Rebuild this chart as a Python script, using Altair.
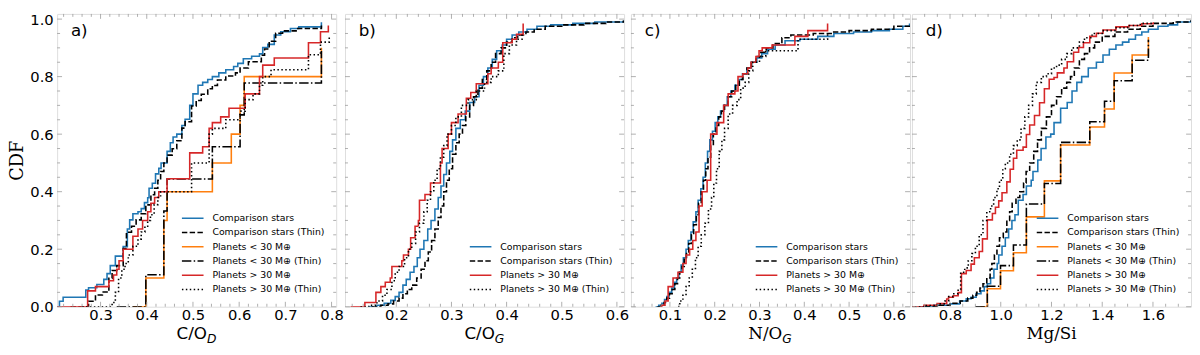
import sys
import altair as alt
import pandas as pd
import numpy as np

# ---------------- series definitions ----------------
series_names = ["Comparison stars", "Comparison stars (Thin)",
                "Planets < 30 M⊕", "Planets < 30 M⊕ (Thin)",
                "Planets > 30 M⊕", "Planets > 30 M⊕ (Thin)"]
series_colors = ["#1f77b4", "#000000", "#ff7f0e", "#000000", "#d62728", "#000000"]
series_dashes = [[1, 0], [5.5, 2.4], [1, 0], [9.6, 2.4, 1.5, 2.4], [1, 0], [1.5, 2.5]]

# ---------------- panel a : C/O_D ----------------
a_comp_x = [0.206, 0.211, 0.219, 0.268, 0.274, 0.292, 0.307, 0.314, 0.321, 0.332, 0.349, 0.358, 0.363, 0.370, 0.381, 0.388, 0.395, 0.402, 0.405, 0.412, 0.419, 0.426, 0.431, 0.444, 0.451, 0.457, 0.465, 0.476, 0.483, 0.493, 0.500, 0.511, 0.521, 0.532, 0.542, 0.556, 0.571, 0.588, 0.597, 0.609, 0.627, 0.644, 0.651, 0.662, 0.676, 0.690, 0.711, 0.729, 0.778]
a_comp_y = [0.0, 0.019, 0.033, 0.058, 0.066, 0.077, 0.095, 0.115, 0.143, 0.176, 0.209, 0.270, 0.302, 0.323, 0.330, 0.341, 0.362, 0.379, 0.412, 0.429, 0.462, 0.481, 0.500, 0.540, 0.570, 0.590, 0.600, 0.630, 0.652, 0.700, 0.740, 0.770, 0.780, 0.790, 0.800, 0.813, 0.824, 0.835, 0.846, 0.862, 0.871, 0.879, 0.901, 0.912, 0.945, 0.956, 0.967, 0.973, 0.989]
a_thin_x = [0.235, 0.274, 0.289, 0.304, 0.318, 0.325, 0.335, 0.349, 0.356, 0.367, 0.377, 0.388, 0.398, 0.409, 0.417, 0.424, 0.430, 0.437, 0.444, 0.455, 0.465, 0.476, 0.483, 0.497, 0.507, 0.518, 0.532, 0.542, 0.553, 0.571, 0.592, 0.602, 0.620, 0.648, 0.655, 0.665, 0.679, 0.694, 0.725, 0.778]
a_thin_y = [0.0, 0.019, 0.041, 0.051, 0.099, 0.126, 0.143, 0.202, 0.259, 0.280, 0.302, 0.323, 0.354, 0.389, 0.412, 0.440, 0.470, 0.500, 0.527, 0.549, 0.577, 0.621, 0.643, 0.698, 0.717, 0.739, 0.758, 0.769, 0.788, 0.802, 0.813, 0.830, 0.852, 0.874, 0.896, 0.923, 0.951, 0.959, 0.967, 0.978]
a_lo_x = [0.370, 0.398, 0.437, 0.444, 0.542, 0.583, 0.602, 0.611, 0.778]
a_lo_y = [0.0, 0.1, 0.3, 0.4, 0.5, 0.6, 0.7, 0.8, 0.9]
a_lothin_x = [0.335, 0.398, 0.437, 0.444, 0.542, 0.602, 0.611, 0.778]
a_lothin_y = [0.0, 0.111, 0.333, 0.444, 0.556, 0.667, 0.778, 0.889]
a_hi_x = [0.206, 0.272, 0.289, 0.318, 0.328, 0.335, 0.340, 0.349, 0.370, 0.381, 0.391, 0.402, 0.409, 0.417, 0.426, 0.444, 0.493, 0.521, 0.535, 0.542, 0.560, 0.578, 0.613, 0.644, 0.651, 0.676, 0.750, 0.776, 0.793]
a_hi_y = [0.0, 0.055, 0.070, 0.090, 0.110, 0.130, 0.160, 0.200, 0.245, 0.270, 0.300, 0.330, 0.360, 0.380, 0.400, 0.445, 0.535, 0.556, 0.620, 0.640, 0.660, 0.690, 0.740, 0.800, 0.840, 0.865, 0.918, 0.956, 0.978]
a_hithin_x = [0.260, 0.325, 0.332, 0.339, 0.346, 0.353, 0.360, 0.370, 0.381, 0.388, 0.396, 0.402, 0.408, 0.416, 0.424, 0.430, 0.497, 0.535, 0.542, 0.571, 0.602, 0.613, 0.630, 0.644, 0.651, 0.669, 0.750, 0.776, 0.795]
a_hithin_y = [0.0, 0.015, 0.05, 0.10, 0.13, 0.15, 0.18, 0.21, 0.235, 0.26, 0.28, 0.30, 0.32, 0.355, 0.38, 0.40, 0.50, 0.60, 0.62, 0.65, 0.68, 0.72, 0.74, 0.77, 0.80, 0.824, 0.876, 0.92, 0.94]

# ---------------- panel b : C/O_G ----------------
b_comp_x = [0.150, 0.165, 0.178, 0.190, 0.198, 0.205, 0.212, 0.218, 0.225, 0.232, 0.238, 0.243, 0.250, 0.257, 0.263, 0.270, 0.276, 0.281, 0.286, 0.291, 0.297, 0.302, 0.308, 0.316, 0.325, 0.333, 0.342, 0.350, 0.358, 0.366, 0.374, 0.382, 0.392, 0.400, 0.410, 0.422, 0.437, 0.455, 0.480, 0.520, 0.560, 0.612]
b_comp_y = [0.0, 0.005, 0.012, 0.022, 0.035, 0.05, 0.075, 0.095, 0.12, 0.14, 0.17, 0.20, 0.23, 0.27, 0.30, 0.34, 0.38, 0.42, 0.46, 0.50, 0.54, 0.58, 0.62, 0.65, 0.68, 0.71, 0.73, 0.77, 0.80, 0.83, 0.86, 0.89, 0.91, 0.93, 0.945, 0.955, 0.965, 0.975, 0.98, 0.985, 0.99, 0.995]
b_thin_x = [0.155, 0.172, 0.185, 0.195, 0.205, 0.212, 0.220, 0.228, 0.237, 0.245, 0.252, 0.258, 0.264, 0.270, 0.276, 0.281, 0.286, 0.291, 0.296, 0.302, 0.308, 0.314, 0.320, 0.326, 0.333, 0.340, 0.348, 0.356, 0.364, 0.372, 0.380, 0.390, 0.400, 0.410, 0.420, 0.435, 0.450, 0.470, 0.500, 0.540, 0.580, 0.612]
b_thin_y = [0.0, 0.005, 0.01, 0.02, 0.03, 0.045, 0.06, 0.075, 0.10, 0.13, 0.16, 0.19, 0.23, 0.27, 0.31, 0.35, 0.40, 0.44, 0.48, 0.53, 0.57, 0.60, 0.63, 0.66, 0.70, 0.73, 0.76, 0.79, 0.82, 0.85, 0.88, 0.90, 0.92, 0.935, 0.945, 0.955, 0.965, 0.975, 0.98, 0.985, 0.99, 0.995]
b_hi_x = [0.117, 0.143, 0.163, 0.172, 0.180, 0.189, 0.192, 0.210, 0.213, 0.222, 0.226, 0.234, 0.240, 0.242, 0.252, 0.262, 0.280, 0.283, 0.294, 0.300, 0.312, 0.327, 0.335, 0.345, 0.366, 0.372, 0.385, 0.393, 0.410, 0.418, 0.430]
b_hi_y = [0.0, 0.015, 0.05, 0.07, 0.085, 0.10, 0.14, 0.16, 0.18, 0.20, 0.24, 0.28, 0.30, 0.37, 0.39, 0.43, 0.50, 0.55, 0.60, 0.64, 0.67, 0.725, 0.745, 0.775, 0.81, 0.83, 0.85, 0.918, 0.93, 0.947, 0.985]
b_hithin_x = [0.135, 0.150, 0.165, 0.175, 0.183, 0.192, 0.198, 0.205, 0.215, 0.222, 0.228, 0.235, 0.242, 0.250, 0.256, 0.262, 0.268, 0.274, 0.280, 0.286, 0.292, 0.300, 0.308, 0.318, 0.330, 0.345, 0.360, 0.372, 0.385, 0.395, 0.405, 0.418, 0.428]
b_hithin_y = [0.0, 0.005, 0.02, 0.04, 0.06, 0.09, 0.12, 0.14, 0.17, 0.20, 0.22, 0.26, 0.29, 0.33, 0.37, 0.40, 0.44, 0.48, 0.52, 0.56, 0.60, 0.63, 0.66, 0.70, 0.72, 0.75, 0.78, 0.80, 0.82, 0.88, 0.91, 0.93, 0.95]

# ---------------- panel c : N/O_G ----------------
c_comp_x = [0.068, 0.075, 0.082, 0.088, 0.093, 0.098, 0.104, 0.110, 0.115, 0.120, 0.125, 0.130, 0.136, 0.141, 0.147, 0.152, 0.158, 0.163, 0.169, 0.174, 0.179, 0.184, 0.189, 0.195, 0.201, 0.207, 0.213, 0.220, 0.228, 0.236, 0.245, 0.254, 0.262, 0.272, 0.282, 0.294, 0.305, 0.318, 0.335, 0.357, 0.390, 0.430, 0.466, 0.510, 0.550, 0.590, 0.620, 0.635]
c_comp_y = [0.0, 0.005, 0.012, 0.025, 0.035, 0.05, 0.065, 0.085, 0.10, 0.12, 0.145, 0.17, 0.20, 0.23, 0.26, 0.295, 0.33, 0.37, 0.41, 0.45, 0.50, 0.54, 0.58, 0.61, 0.64, 0.66, 0.68, 0.70, 0.73, 0.75, 0.77, 0.79, 0.81, 0.83, 0.85, 0.865, 0.88, 0.895, 0.91, 0.925, 0.93, 0.94, 0.95, 0.955, 0.96, 0.965, 0.975, 0.985]
c_thin_x = [0.072, 0.080, 0.087, 0.093, 0.099, 0.105, 0.111, 0.117, 0.122, 0.127, 0.132, 0.137, 0.142, 0.148, 0.153, 0.159, 0.164, 0.170, 0.175, 0.180, 0.185, 0.191, 0.197, 0.203, 0.209, 0.215, 0.222, 0.230, 0.238, 0.247, 0.255, 0.263, 0.272, 0.282, 0.292, 0.303, 0.315, 0.330, 0.350, 0.370, 0.420, 0.460, 0.500, 0.550, 0.600, 0.635]
c_thin_y = [0.0, 0.005, 0.015, 0.03, 0.045, 0.06, 0.08, 0.10, 0.12, 0.14, 0.165, 0.19, 0.22, 0.25, 0.285, 0.32, 0.36, 0.40, 0.44, 0.48, 0.52, 0.56, 0.60, 0.63, 0.66, 0.68, 0.70, 0.73, 0.75, 0.77, 0.79, 0.81, 0.83, 0.85, 0.87, 0.885, 0.90, 0.915, 0.935, 0.945, 0.95, 0.955, 0.96, 0.965, 0.975, 0.985]
c_hi_x = [0.078, 0.082, 0.089, 0.096, 0.107, 0.118, 0.129, 0.136, 0.144, 0.151, 0.158, 0.165, 0.172, 0.183, 0.191, 0.205, 0.220, 0.230, 0.245, 0.252, 0.263, 0.274, 0.281, 0.292, 0.299, 0.306, 0.328, 0.379, 0.408, 0.452]
c_hi_y = [0.0, 0.005, 0.02, 0.07, 0.10, 0.12, 0.15, 0.18, 0.20, 0.23, 0.26, 0.35, 0.40, 0.44, 0.60, 0.64, 0.70, 0.74, 0.75, 0.80, 0.81, 0.83, 0.85, 0.87, 0.89, 0.90, 0.91, 0.94, 0.96, 0.985]
c_hithin_x = [0.118, 0.122, 0.129, 0.136, 0.143, 0.150, 0.157, 0.163, 0.170, 0.178, 0.186, 0.193, 0.198, 0.204, 0.210, 0.216, 0.222, 0.230, 0.240, 0.250, 0.258, 0.268, 0.276, 0.285, 0.300, 0.314, 0.386, 0.452]
c_hithin_y = [0.0, 0.02, 0.04, 0.07, 0.10, 0.13, 0.17, 0.21, 0.25, 0.29, 0.34, 0.38, 0.43, 0.48, 0.54, 0.58, 0.62, 0.67, 0.70, 0.72, 0.76, 0.78, 0.82, 0.85, 0.87, 0.89, 0.93, 0.955]

# ---------------- panel d : Mg/Si ----------------
d_comp_x = [0.680, 0.736, 0.800, 0.838, 0.864, 0.883, 0.903, 0.922, 0.935, 0.947, 0.960, 0.973, 0.986, 0.992, 1.005, 1.018, 1.031, 1.044, 1.056, 1.069, 1.088, 1.101, 1.120, 1.127, 1.146, 1.159, 1.178, 1.197, 1.210, 1.236, 1.262, 1.281, 1.300, 1.319, 1.345, 1.377, 1.403, 1.428, 1.454, 1.480, 1.505, 1.531, 1.556, 1.582, 1.620, 1.659, 1.697, 1.749]
d_comp_y = [0.0, 0.005, 0.01, 0.02, 0.028, 0.033, 0.045, 0.055, 0.07, 0.08, 0.10, 0.13, 0.15, 0.18, 0.21, 0.24, 0.27, 0.30, 0.32, 0.37, 0.39, 0.42, 0.44, 0.47, 0.51, 0.55, 0.59, 0.60, 0.64, 0.69, 0.71, 0.75, 0.78, 0.80, 0.83, 0.85, 0.875, 0.895, 0.91, 0.92, 0.93, 0.945, 0.955, 0.965, 0.975, 0.98, 0.99, 0.995]
d_thin_x = [0.700, 0.750, 0.800, 0.840, 0.870, 0.890, 0.905, 0.918, 0.930, 0.945, 0.958, 0.965, 0.975, 0.985, 0.995, 1.010, 1.024, 1.035, 1.045, 1.060, 1.075, 1.090, 1.100, 1.114, 1.130, 1.145, 1.160, 1.180, 1.200, 1.220, 1.240, 1.260, 1.275, 1.290, 1.310, 1.330, 1.350, 1.370, 1.400, 1.450, 1.500, 1.550, 1.600, 1.680, 1.749]
d_thin_y = [0.0, 0.005, 0.012, 0.02, 0.03, 0.04, 0.05, 0.065, 0.08, 0.10, 0.13, 0.15, 0.18, 0.21, 0.24, 0.26, 0.30, 0.33, 0.36, 0.38, 0.40, 0.43, 0.47, 0.50, 0.54, 0.58, 0.62, 0.66, 0.70, 0.73, 0.76, 0.78, 0.80, 0.83, 0.86, 0.88, 0.90, 0.92, 0.94, 0.955, 0.965, 0.975, 0.985, 0.99, 0.995]
d_lo_x = [0.920, 0.947, 0.999, 1.050, 1.101, 1.172, 1.236, 1.351, 1.409, 1.447, 1.518, 1.582]
d_lo_y = [0.0, 0.0625, 0.125, 0.1875, 0.3125, 0.4375, 0.5625, 0.625, 0.6875, 0.8125, 0.875, 0.9375]
d_lothin_x = [0.900, 0.947, 0.999, 1.050, 1.101, 1.172, 1.236, 1.351, 1.409, 1.447, 1.518, 1.582]
d_lothin_y = [0.0, 0.0714, 0.1429, 0.2143, 0.3571, 0.4286, 0.5714, 0.6429, 0.7143, 0.7857, 0.8571, 0.9286]
d_hi_x = [0.646, 0.697, 0.749, 0.787, 0.794, 0.813, 0.832, 0.845, 0.864, 0.883, 0.896, 0.915, 0.928, 0.947, 0.967, 0.979, 0.992, 1.005, 1.024, 1.037, 1.050, 1.063, 1.088, 1.101, 1.114, 1.133, 1.153, 1.172, 1.191, 1.210, 1.223, 1.249, 1.262, 1.287, 1.307, 1.326, 1.351, 1.377, 1.403, 1.454, 1.505, 1.556, 1.601]
d_hi_y = [0.0, 0.005, 0.011, 0.027, 0.033, 0.038, 0.049, 0.115, 0.126, 0.148, 0.170, 0.192, 0.236, 0.302, 0.324, 0.346, 0.368, 0.396, 0.434, 0.478, 0.516, 0.544, 0.555, 0.599, 0.632, 0.665, 0.709, 0.758, 0.791, 0.797, 0.813, 0.830, 0.852, 0.885, 0.901, 0.918, 0.940, 0.951, 0.962, 0.973, 0.978, 0.984, 0.989]
d_hithin_x = [0.646, 0.700, 0.750, 0.780, 0.795, 0.815, 0.832, 0.842, 0.858, 0.872, 0.886, 0.900, 0.915, 0.930, 0.945, 0.960, 0.972, 0.985, 0.995, 1.008, 1.018, 1.035, 1.050, 1.065, 1.080, 1.095, 1.110, 1.125, 1.140, 1.160, 1.180, 1.200, 1.220, 1.240, 1.260, 1.280, 1.310, 1.330, 1.360, 1.400, 1.450, 1.500, 1.550, 1.600]
d_hithin_y = [0.0, 0.004, 0.01, 0.02, 0.035, 0.045, 0.06, 0.12, 0.135, 0.16, 0.185, 0.21, 0.25, 0.30, 0.33, 0.35, 0.38, 0.41, 0.44, 0.48, 0.50, 0.53, 0.56, 0.58, 0.62, 0.66, 0.70, 0.74, 0.78, 0.80, 0.81, 0.83, 0.84, 0.86, 0.88, 0.90, 0.92, 0.935, 0.95, 0.96, 0.97, 0.978, 0.985, 0.99]

# ---------------- axes ----------------
a_xdomain = [0.206, 0.810]
b_xdomain = [0.107, 0.613]
c_xdomain = [0.013, 0.636]
d_xdomain = [0.650, 1.750]
a_xticks = [0.3, 0.4, 0.5, 0.6, 0.7, 0.8]
b_xticks = [0.2, 0.3, 0.4, 0.5, 0.6]
c_xticks = [0.1, 0.2, 0.3, 0.4, 0.5, 0.6]
d_xticks = [0.8, 1.0, 1.2, 1.4, 1.6]
y_ticks = [0.0, 0.2, 0.4, 0.6, 0.8, 1.0]
YMAX = 1.018

W, H = 284, 298
MAJ, MIN = 5.0, 3.0
TICK_COLOR = "#9a9a9a"
TITLE_BASE = 33


def minor_ticks(dom, step):
    vals = np.round(np.arange(np.ceil(dom[0] / step) * step, dom[1] + 1e-9, step), 4)
    return [float(v) for v in vals if dom[0] < v < dom[1]]


def build_df(series):
    rows = []
    for name, xs, ys in series:
        if len(xs) != len(ys):
            print("length mismatch", name, len(xs), len(ys), file=sys.stderr)
        for i, (xv, yv) in enumerate(zip(xs, ys)):
            rows.append({"x": xv, "y": yv, "series": name, "i": i})
    return pd.DataFrame(rows)


def panel(label, xdom, xmajor, xminor_step, series, show_y, title_main, title_sub, title_font, sub_offset):
    df = build_df(series)
    names = [s[0] for s in series]
    idx = [series_names.index(n) for n in names]
    cols = [series_colors[k] for k in idx]
    dashes = [series_dashes[k] for k in idx]

    xscale = alt.Scale(domain=xdom, nice=False, zero=False)
    yscale = alt.Scale(domain=[0, YMAX], nice=False, zero=False)
    xaxis = alt.Axis(values=xmajor, format=".1f", title=None, ticks=False, tickSize=0,
                     domain=False, grid=False, labelPadding=1, labelFlush=False,
                     labelOverlap=False, labelFontSize=15, labelFont="DejaVu Sans",
                     labelColor="black")
    if show_y:
        yaxis = alt.Axis(values=y_ticks, format=".1f", title="CDF", ticks=False, tickSize=0,
                         domain=False, grid=False, labelPadding=4, labelFlush=False,
                         labelOverlap=False, labelFontSize=15, labelFont="DejaVu Sans",
                         labelColor="black", titleFont="DejaVu Serif", titleFontSize=18,
                         titleFontWeight="normal", titleColor="black", titlePadding=3)
    else:
        yaxis = None

    leg = alt.Legend(title=None, orient="bottom-right", offset=11, padding=0,
                     symbolType="stroke", symbolSize=484, symbolStrokeWidth=1.5,
                     labelFont="DejaVu Sans", labelFontSize=9.5, labelColor="black",
                     clipHeight=12, rowPadding=2.5, labelOffset=8)

    lines = alt.Chart(df).mark_line(interpolate="step-after", strokeWidth=1.6, clip=True).encode(
        x=alt.X("x:Q", scale=xscale, axis=xaxis),
        y=alt.Y("y:Q", scale=yscale, axis=yaxis),
        color=alt.Color("series:N", scale=alt.Scale(domain=names, range=cols), legend=leg),
        strokeDash=alt.StrokeDash("series:N", scale=alt.Scale(domain=names, range=dashes), legend=leg),
        order="i:Q",
    )

    # inward tick marks on all four sides
    xminor = [v for v in minor_ticks(xdom, xminor_step) if all(abs(v - m) > 1e-6 for m in xmajor)]
    yminor = [v for v in minor_ticks([0, YMAX], 0.05) if all(abs(v - m) > 1e-6 for m in y_ticks)]
    ly = lambda px: px / H * YMAX
    lx = lambda px: px / W * (xdom[1] - xdom[0])
    xt = []
    for vals, ln in ((xmajor, MAJ), (xminor, MIN)):
        for v in vals:
            if xdom[0] < v < xdom[1]:
                xt.append({"v": v, "a": 0.0, "b": ly(ln)})
                xt.append({"v": v, "a": YMAX, "b": YMAX - ly(ln)})
    yt = []
    for vals, ln in ((y_ticks, MAJ), (yminor, MIN)):
        for v in vals:
            yt.append({"v": v, "a": xdom[0], "b": xdom[0] + lx(ln)})
            yt.append({"v": v, "a": xdom[1], "b": xdom[1] - lx(ln)})
    xtick_layer = alt.Chart(pd.DataFrame(xt)).mark_rule(color=TICK_COLOR, strokeWidth=0.8).encode(
        x=alt.X("v:Q", scale=xscale, axis=xaxis),
        y=alt.Y("a:Q", scale=yscale, axis=yaxis),
        y2="b:Q",
    )
    ytick_layer = alt.Chart(pd.DataFrame(yt)).mark_rule(color=TICK_COLOR, strokeWidth=0.8).encode(
        y=alt.Y("v:Q", scale=yscale, axis=yaxis),
        x=alt.X("a:Q", scale=xscale, axis=xaxis),
        x2="b:Q",
    )

    txt = pd.DataFrame({"t": [label]})
    lab = alt.Chart(txt).mark_text(align="left", baseline="middle", fontSize=17,
                                   font="DejaVu Sans", color="black").encode(
        x=alt.value(14), y=alt.value(17), text="t:N")

    layers = [lines, xtick_layer, ytick_layer, lab]
    tmain = alt.Chart(pd.DataFrame({"t": [title_main]})).mark_text(
        align="right" if title_sub else "center", baseline="alphabetic", fontSize=17,
        font=title_font, color="black").encode(
        x=alt.value(W / 2 + sub_offset), y=alt.value(H + TITLE_BASE), text="t:N")
    layers.append(tmain)
    if title_sub:
        tsub = alt.Chart(pd.DataFrame({"t": [title_sub]})).mark_text(
            align="left", baseline="alphabetic", fontSize=12.5, fontStyle="italic",
            font="DejaVu Sans", color="black").encode(
            x=alt.value(W / 2 + sub_offset), y=alt.value(H + TITLE_BASE + 3.5), text="t:N")
        layers.append(tsub)
    return alt.layer(*layers).properties(width=W, height=H)


pa = panel("a)", a_xdomain, a_xticks, 0.02, [
    (series_names[0], a_comp_x, a_comp_y),
    (series_names[1], a_thin_x, a_thin_y),
    (series_names[2], a_lo_x, a_lo_y),
    (series_names[3], a_lothin_x, a_lothin_y),
    (series_names[4], a_hi_x, a_hi_y),
    (series_names[5], a_hithin_x, a_hithin_y),
], True, "C/O", "D", "DejaVu Sans", 10.5)

pb = panel("b)", b_xdomain, b_xticks, 0.02, [
    (series_names[0], b_comp_x, b_comp_y),
    (series_names[1], b_thin_x, b_thin_y),
    (series_names[4], b_hi_x, b_hi_y),
    (series_names[5], b_hithin_x, b_hithin_y),
], False, "C/O", "G", "DejaVu Sans", 10.5)

pc = panel("c)", c_xdomain, c_xticks, 0.02, [
    (series_names[0], c_comp_x, c_comp_y),
    (series_names[1], c_thin_x, c_thin_y),
    (series_names[4], c_hi_x, c_hi_y),
    (series_names[5], c_hithin_x, c_hithin_y),
], False, "N/O", "G", "DejaVu Serif", 12.0)

pd_ = panel("d)", d_xdomain, d_xticks, 0.05, [
    (series_names[0], d_comp_x, d_comp_y),
    (series_names[1], d_thin_x, d_thin_y),
    (series_names[2], d_lo_x, d_lo_y),
    (series_names[3], d_lothin_x, d_lothin_y),
    (series_names[4], d_hi_x, d_hi_y),
    (series_names[5], d_hithin_x, d_hithin_y),
], False, "Mg/Si", None, "DejaVu Serif", 0)

chart = alt.hconcat(pa, pb, pc, pd_, spacing=0).resolve_scale(
    x="independent", color="independent", strokeDash="independent"
).resolve_legend(color="independent", strokeDash="independent").properties(
    padding={"left": 0, "top": 0, "right": 0, "bottom": 0}
).configure_view(stroke="#b0b0b0", strokeWidth=1).configure(font="DejaVu Sans")

chart.save("out.html", embed_options={"renderer": "svg", "actions": False})
